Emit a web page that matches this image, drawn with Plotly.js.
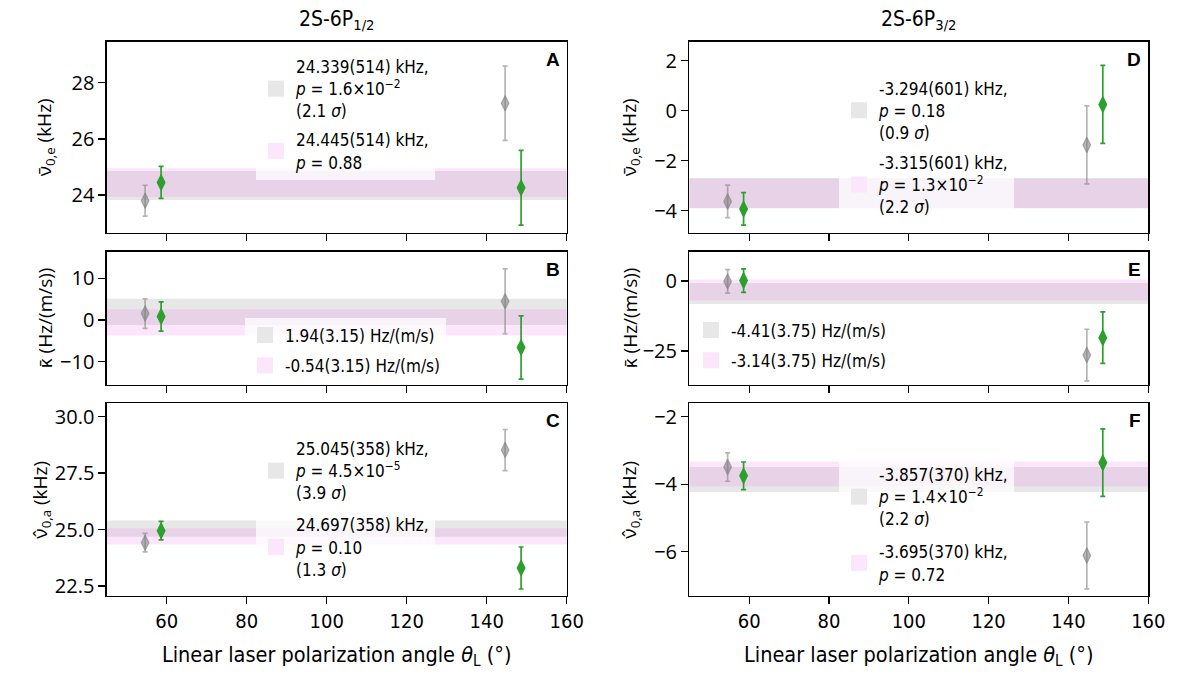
<!DOCTYPE html>
<html>
<head>
<meta charset="utf-8">
<script src="https://cdn.plot.ly/plotly-3.0.1.min.js"></script>
<style>html,body{margin:0;padding:0;background:#fff;}#chart{width:1186px;height:675px;}</style>
</head>
<body>
<div id="chart"></div>
<script>
// ---------------- data ----------------
const xGray = [54.6, 144.6];
const xGreen = [58.6, 148.6];

const panelLetters = ["A", "B", "C", "D", "E", "F"];

const grayY   = [[23.80, 27.27], [1.55, 4.5],  [24.42, 28.52], [-3.63, -1.37], [-0.1, -26.4], [-3.49, -6.11]];
const grayErr = [[0.55, 1.32],   [3.55, 7.8],  [0.41, 0.91],   [0.65, 1.56],   [4.2, 9.2],    [0.42, 0.99]];
const greenY  = [[24.45, 24.26], [0.85, -6.6], [24.95, 23.30], [-3.93, 0.25],  [0.2, -20.2],  [-3.75, -3.36]];
const greenErr= [[0.57, 1.33],   [3.5, 7.6],   [0.41, 0.93],   [0.65, 1.56],   [4.2, 9.2],    [0.41, 1.0]];

const bandGrayC = [24.339, 1.94, 25.045, -3.294, -4.41, -3.857];
const bandGrayE = [0.514, 3.15, 0.358, 0.601, 3.75, 0.370];
const bandPinkC = [24.445, -0.54, 24.697, -3.315, -3.14, -3.695];
const bandPinkE = [0.514, 3.15, 0.358, 0.601, 3.75, 0.370];

const legendGray = [
  "24.339(514) kHz,<br><i>p</i> = 1.6×10<sup>−2</sup><br>(2.1 <i>σ</i>)",
  "1.94(3.15) Hz/(m/s)",
  "25.045(358) kHz,<br><i>p</i> = 4.5×10<sup>−5</sup><br>(3.9 <i>σ</i>)",
  "-3.294(601) kHz,<br><i>p</i> = 0.18<br>(0.9 <i>σ</i>)",
  "-4.41(3.75) Hz/(m/s)",
  "-3.857(370) kHz,<br><i>p</i> = 1.4×10<sup>−2</sup><br>(2.2 <i>σ</i>)"
];
const legendPink = [
  "24.445(514) kHz,<br><i>p</i> = 0.88",
  "-0.54(3.15) Hz/(m/s)",
  "24.697(358) kHz,<br><i>p</i> = 0.10<br>(1.3 <i>σ</i>)",
  "-3.315(601) kHz,<br><i>p</i> = 1.3×10<sup>−2</sup><br>(2.2 <i>σ</i>)",
  "-3.14(3.75) Hz/(m/s)",
  "-3.695(370) kHz,<br><i>p</i> = 0.72"
];

const yRanges = [[22.66, 29.46], [-15.6, 16.4], [22.06, 30.59], [-4.88, 2.76], [-37.1, 10.5], [-7.31, -1.6]];
const yDticks = [2, 10, 2.5, 2, 25, 2];
const yFormats = ["", "", ".1f", "", "", ""];
const yTitles = [
  "ν̄<sub>0,e</sub> (kHz)", "κ̄ (Hz/(m/s))", "ν̂<sub>0,a</sub> (kHz)",
  "ν̄<sub>0,e</sub> (kHz)", "κ̄ (Hz/(m/s))", "ν̂<sub>0,a</sub> (kHz)"
];
const columnTitles = ["2S-6P<sub>1/2</sub>", "2S-6P<sub>3/2</sub>"];
const xTitle = "Linear laser polarization angle <i>θ</i><sub>L</sub> (°)";
const xRange = [45, 160];
const xTicks = [60, 80, 100, 120, 140, 160];

// ---------------- layout geometry ----------------
const W = 1186, H = 675;
const colPx = [[106.7, 566.7], [689.3, 1148.3]];
const rowPx = [[41.7, 232.7], [251.7, 385], [403.3, 596]];
const legendPos = [[256, 49], [245, 317.5], [256, 431], [839, 70.5], [691, 312.5], [839, 457]];
const legendGap = [4, 5, 7, 5, 5, 8];
const yTitleX = [45, 45, 41, 630, 630, 630];

const FONT_C = "'DejaVu Sans Condensed', 'Liberation Sans Narrow', sans-serif";
const FONT_R = "'Open Sans', 'Noto Sans', sans-serif";

const GRAY_BAND = "rgba(211,211,211,0.55)";
const PINK_BAND = "rgba(238,130,238,0.2)";
const GRAY_SW = "#e7e7e7";
const PINK_SW = "#fce6fc";
const GRAY_PT = "rgba(128,128,128,0.58)";
const GREEN = "#2ca02c";

const traces = [];
const shapes = [];
const annotations = [];
const layout = {
  width: W, height: H,
  margin: {l: 0, r: 0, t: 0, b: 0},
  paper_bgcolor: "#fff", plot_bgcolor: "#fff",
  showlegend: true,
  font: {family: FONT_R, color: "#000"},
  shapes: shapes, annotations: annotations
};

for (let i = 0; i < 6; i++) {
  const col = Math.floor(i / 3), row = i % 3;
  const n = i + 1;
  const xa = n === 1 ? "x" : "x" + n, ya = n === 1 ? "y" : "y" + n;
  const xk = n === 1 ? "xaxis" : "xaxis" + n, yk = n === 1 ? "yaxis" : "yaxis" + n;
  const lk = n === 1 ? "legend" : "legend" + n;
  const isBottom = row === 2;

  layout[xk] = {
    domain: [colPx[col][0] / W, colPx[col][1] / W],
    anchor: ya, range: xRange, tickvals: xTicks,
    showticklabels: isBottom, ticks: "outside", ticklen: 7, tickwidth: 1.3, tickcolor: "#000",
    showline: true, mirror: true, linecolor: "#000", linewidth: 1.3,
    showgrid: false, zeroline: false, fixedrange: true,
    tickfont: {family: FONT_C, size: 20, color: "#000"},
    automargin: false
  };
  if (isBottom) {
    layout[xk].title = {text: xTitle, font: {family: FONT_C, size: 21.5, color: "#000"}, standoff: 14};
  }
  layout[yk] = {
    domain: [1 - rowPx[row][1] / H, 1 - rowPx[row][0] / H],
    anchor: xa, range: yRanges[i], dtick: yDticks[i], tick0: 0, tickformat: yFormats[i],
    ticks: "outside", ticklen: 7, tickwidth: 1.3, tickcolor: "#000",
    showline: true, mirror: true, linecolor: "#000", linewidth: 1.3,
    showgrid: false, zeroline: false, fixedrange: true,
    tickfont: {family: FONT_R, size: 20, color: "#000"},
    automargin: false
  };

  // bands
  shapes.push({type: "rect", xref: xa + " domain", yref: ya, x0: 0, x1: 1,
    y0: bandGrayC[i] - bandGrayE[i], y1: bandGrayC[i] + bandGrayE[i],
    fillcolor: GRAY_BAND, line: {width: 0}, layer: "below"});
  shapes.push({type: "rect", xref: xa + " domain", yref: ya, x0: 0, x1: 1,
    y0: bandPinkC[i] - bandPinkE[i], y1: bandPinkC[i] + bandPinkE[i],
    fillcolor: PINK_BAND, line: {width: 0}, layer: "below"});

  // legend swatches
  traces.push({type: "scatter", x: [null], y: [null], xaxis: xa, yaxis: ya, mode: "markers",
    marker: {symbol: "square", size: 16, color: GRAY_SW}, name: legendGray[i], legend: lk,
    legendgroup: "g" + n + "a", hoverinfo: "skip"});
  traces.push({type: "scatter", x: [null], y: [null], xaxis: xa, yaxis: ya, mode: "markers",
    marker: {symbol: "square", size: 16, color: PINK_SW}, name: legendPink[i], legend: lk,
    legendgroup: "g" + n + "b", hoverinfo: "skip"});

  // data points
  traces.push({type: "scatter", x: xGray, y: grayY[i], xaxis: xa, yaxis: ya, mode: "markers",
    marker: {symbol: "diamond-tall", size: 11, color: GRAY_PT, line: {width: 1.2, color: GRAY_PT}},
    error_y: {type: "data", array: grayErr[i], visible: true, color: GRAY_PT, thickness: 1.7, width: 2.5},
    showlegend: false});
  traces.push({type: "scatter", x: xGreen, y: greenY[i], xaxis: xa, yaxis: ya, mode: "markers",
    marker: {symbol: "diamond-tall", size: 11, color: GREEN, line: {width: 1.2, color: GREEN}},
    error_y: {type: "data", array: greenErr[i], visible: true, color: GREEN, thickness: 1.7, width: 2.5},
    showlegend: false});

  layout[lk] = {
    x: legendPos[i][0] / W, y: 1 - legendPos[i][1] / H, xanchor: "left", yanchor: "top",
    xref: "paper", yref: "paper",
    bgcolor: "rgba(255,255,255,0.75)", borderwidth: 0,
    font: {family: FONT_C, size: 17, color: "#000"},
    itemclick: false, itemdoubleclick: false, valign: "middle",
    traceorder: "grouped", tracegroupgap: legendGap[i]
  };

  // panel letter
  annotations.push({xref: xa + " domain", yref: ya + " domain", x: 1, y: 1, xanchor: "right", yanchor: "top",
    xshift: -5, yshift: -5, showarrow: false, text: "<b>" + panelLetters[i] + "</b>",
    font: {family: "'Liberation Sans', sans-serif", size: 19, color: "#000"}});

  // y title
  annotations.push({xref: "paper", yref: "paper", x: yTitleX[i] / W,
    y: 1 - (rowPx[row][0] + rowPx[row][1]) / 2 / H, xanchor: "center", yanchor: "middle",
    textangle: -90, showarrow: false, text: yTitles[i],
    font: {family: FONT_R, size: 19, color: "#000"}});
}

for (let c = 0; c < 2; c++) {
  annotations.push({xref: "paper", yref: "paper", x: (colPx[c][0] + colPx[c][1]) / 2 / W, y: 1 - 20 / H,
    xanchor: "center", yanchor: "middle", showarrow: false, text: columnTitles[c],
    font: {family: FONT_C, size: 21, color: "#000"}});
}

Plotly.newPlot("chart", traces, layout, {staticPlot: true, displayModeBar: false});
</script>
</body>
</html>
